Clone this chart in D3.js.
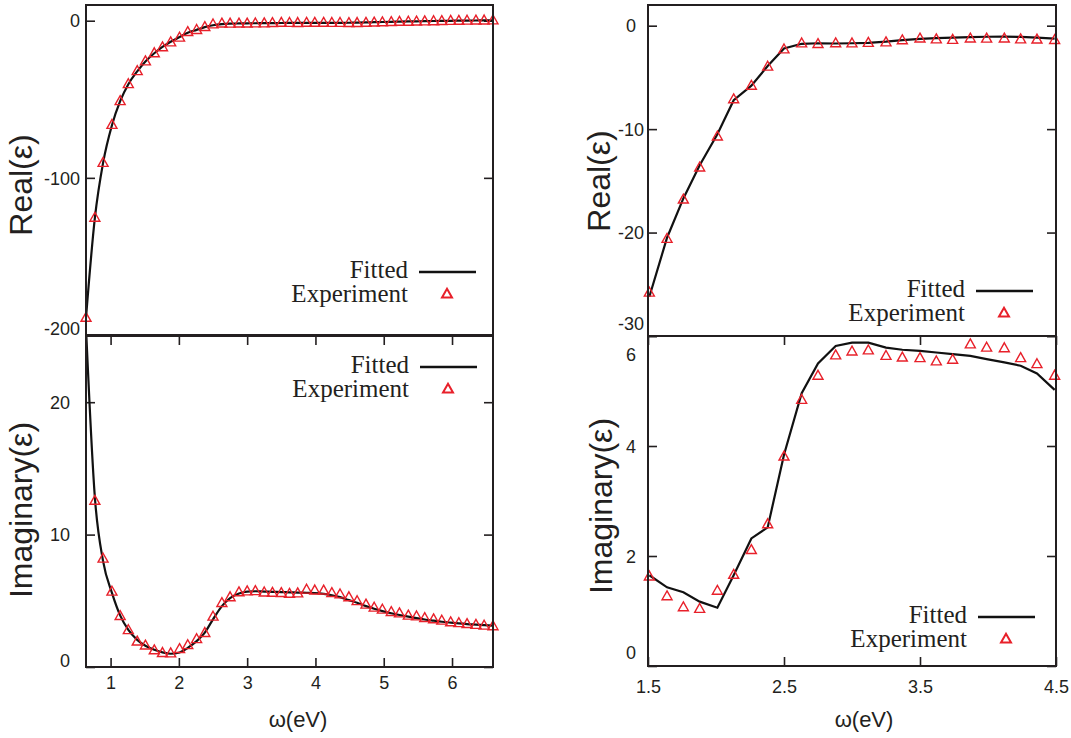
<!DOCTYPE html>
<html>
<head>
<meta charset="utf-8">
<script src="https://cdn.jsdelivr.net/npm/d3@7"></script>
<style>
  body { margin: 0; background: #fff; }
  svg { display: block; }
</style>
</head>
<body>
<svg id="chart" width="1071" height="738"></svg>
<script>
// photon energies (eV) of the measured points
const energy = [0.64, 0.77, 0.89, 1.02, 1.14, 1.26, 1.39, 1.51, 1.64, 1.76, 1.88, 2.01, 2.13, 2.26, 2.38,
  2.50, 2.63, 2.75, 2.88, 3.00, 3.12, 3.25, 3.37, 3.50, 3.62, 3.74, 3.87, 3.99, 4.12, 4.24, 4.36,
  4.49, 4.61, 4.74, 4.86, 4.98, 5.11, 5.23, 5.36, 5.48, 5.60, 5.73, 5.85, 5.98, 6.10, 6.22, 6.35, 6.47, 6.60]

// experiment
const expReal = [-189.0, -125.3, -90.4, -66.2, -51.1, -40.3, -32.0, -25.8, -20.6, -16.8, -13.7, -10.7, -7.1, -5.8, -3.95,
  -2.28, -1.70, -1.76, -1.69, -1.70, -1.65, -1.60, -1.40, -1.23, -1.31, -1.36, -1.23, -1.24, -1.23, -1.31, -1.33,
  -1.37, -1.35, -1.24, -1.08, -0.89, -0.74, -0.62, -0.55, -0.42, -0.35, -0.23, -0.13, -0.01, 0.06, 0.12, 0.19, 0.24, 0.28]
const expImag = [25.4, 12.56, 8.19, 5.70, 3.86, 2.79, 1.93, 1.63, 1.27, 1.07, 1.04, 1.37, 1.66, 2.11, 2.58,
  3.81, 4.84, 5.28, 5.65, 5.72, 5.74, 5.64, 5.61, 5.60, 5.54, 5.57, 5.85, 5.79, 5.78, 5.60, 5.49,
  5.28, 4.98, 4.72, 4.49, 4.34, 4.16, 4.06, 3.89, 3.83, 3.71, 3.61, 3.51, 3.39, 3.32, 3.25, 3.19, 3.13, 3.09]

// fitted curve, full range
const fitReal = [-189.0, -125.5, -90.5, -66.5, -51.2, -40.4, -32.2, -25.9, -20.7, -16.7, -13.4, -10.4, -7.6, -5.8, -4.1,
  -2.9, -2.2, -1.9, -1.75, -1.65, -1.6, -1.55, -1.5, -1.45, -1.42, -1.4, -1.38, -1.36, -1.35, -1.34, -1.32,
  -1.28, -1.2, -1.08, -0.95, -0.82, -0.7, -0.58, -0.47, -0.37, -0.28, -0.19, -0.11, -0.04, 0.03, 0.09, 0.15, 0.2, 0.25]
const fitImag = [25.6, 12.8, 8.0, 5.6, 3.9, 2.8, 2.05, 1.6, 1.3, 1.1, 1.0, 1.1, 1.45, 1.95, 2.6,
  3.6, 4.6, 5.2, 5.55, 5.7, 5.72, 5.7, 5.68, 5.66, 5.64, 5.62, 5.6, 5.58, 5.52, 5.42, 5.28,
  5.05, 4.85, 4.6, 4.4, 4.22, 4.06, 3.93, 3.8, 3.69, 3.59, 3.5, 3.42, 3.35, 3.29, 3.24, 3.2, 3.16, 3.12]

// fitted curve, 1.5 - 4.5 eV window
const energyZoom = [1.51, 1.64, 1.76, 1.88, 2.01, 2.13, 2.26, 2.38, 2.50, 2.63, 2.75, 2.88, 3.00,
  3.12, 3.25, 3.37, 3.50, 3.62, 3.74, 3.87, 3.99, 4.12, 4.24, 4.36, 4.49]
const fitRealZoom = [-26.2, -20.5, -16.7, -13.5, -10.5, -7.2, -5.8, -3.9, -2.2, -1.75, -1.7, -1.72, -1.7,
  -1.66, -1.55, -1.4, -1.28, -1.2, -1.15, -1.1, -1.07, -1.06, -1.08, -1.15, -1.25]
const fitImagZoom = [1.65, 1.43, 1.34, 1.17, 1.06, 1.65, 2.32, 2.52, 3.84, 4.96, 5.5, 5.82, 5.88,
  5.88, 5.79, 5.75, 5.73, 5.70, 5.67, 5.64, 5.58, 5.52, 5.46, 5.32, 5.02]

// ticks
const ticksX = [1, 2, 3, 4, 5, 6]
const ticksXZoom = [1.5, 2.5, 3.5, 4.5]
const ticksReal = [0, -100, -200]
const ticksImag = [0, 10, 20]
const ticksRealZoom = [0, -10, -20, -30]
const ticksImagZoom = [0, 2, 4, 6]

const legendLabels = ['Fitted', 'Experiment']

const svg = d3.select('#chart')
const sans = "'Liberation Sans', Arial, sans-serif"
const serif = "'Liberation Serif', 'Times New Roman', serif"
const frameColor = '#231f20'
const red = '#e8202a'
const triPath = 'M0,-5.3L5,3.6L-5,3.6Z'
const plain = d => String(d)

let clipId = 0

const drawPanel = p => {
	const x = d3.scaleLinear().domain(p.xDomain).range([p.left, p.right])
	const y = d3.scaleLinear().domain(p.yDomain).range([p.bottom, p.top])
	const g = svg.append('g')

	const cid = 'clip' + (clipId++)
	g.append('clipPath').attr('id', cid)
		.append('rect')
		.attr('x', p.left).attr('y', p.top)
		.attr('width', p.right - p.left).attr('height', p.bottom - p.top)

	// left axis with labels
	const yAx = g.append('g')
		.attr('transform', `translate(${p.left},0)`)
		.call(d3.axisLeft(y).tickValues(p.yTicks).tickFormat(plain)
			.tickSizeInner(-9).tickSizeOuter(0).tickPadding(p.yPad))
	yAx.selectAll('.tick text')
		.attr('text-anchor', p.yAnchor)
		.attr('dy', d => (p.yNudge[d] || 0) + 6.2)
	// mirror ticks on the right
	g.append('g')
		.attr('transform', `translate(${p.right},0)`)
		.call(d3.axisRight(y).tickValues(p.yTicks).tickSizeInner(-9).tickSizeOuter(0).tickFormat(''))

	if (p.xLabels) {
		g.append('g')
			.attr('transform', `translate(0,${p.bottom})`)
			.call(d3.axisBottom(x).tickValues(p.xTicks).tickFormat(plain)
				.tickSizeInner(-9).tickSizeOuter(0).tickPadding(p.xPad))
		g.append('g')
			.attr('transform', `translate(0,${p.top})`)
			.call(d3.axisTop(x).tickValues(p.xTicks).tickSizeInner(-9).tickSizeOuter(0).tickFormat(''))
	}

	g.selectAll('.domain').remove()
	g.selectAll('.tick line').style('stroke', frameColor).style('stroke-width', 1.6)
	g.selectAll('.tick text')
		.style('font-family', sans)
		.style('font-size', '18px')
		.style('fill', '#231f20')

	// fitted line
	const line = d3.line()
		.x(d => x(d[0]))
		.y(d => y(d[1]))
		.curve(p.curve)
	g.append('path')
		.datum(p.fitX.map((e, i) => [e, p.fitY[i]]))
		.attr('clip-path', `url(#${cid})`)
		.attr('d', line)
		.attr('fill', 'none')
		.attr('stroke', '#111')
		.attr('stroke-width', 2.2)

	// experiment points
	const pts = energy.map((e, i) => [e, p.expY[i]])
		.filter(d => d[0] >= p.xDomain[0] && d[0] <= p.xDomain[1] && d[1] >= p.yDomain[0] && d[1] <= p.yDomain[1])
	g.selectAll('path.pt')
		.data(pts)
		.enter()
		.append('path')
			.attr('class', 'pt')
			.attr('d', triPath)
			.attr('transform', d => `translate(${x(d[0])},${y(d[1])})`)
			.attr('fill', 'none')
			.attr('stroke', red)
			.attr('stroke-width', 1.4)

	// frame
	g.append('rect')
		.attr('x', p.left).attr('y', p.top)
		.attr('width', p.right - p.left).attr('height', p.bottom - p.top)
		.attr('fill', 'none')
		.attr('stroke', frameColor)
		.attr('stroke-width', 2)

	// legend
	const lg = g.append('g').attr('transform', `translate(${p.legend[0]},${p.legend[1]})`)
	lg.selectAll('text')
		.data(legendLabels)
		.enter()
		.append('text')
			.attr('x', 0)
			.attr('y', (d, i) => i * 24)
			.attr('text-anchor', 'end')
			.style('font-family', serif)
			.style('font-size', '25px')
			.style('fill', '#231f20')
			.text(d => d)
	lg.append('line')
		.attr('x1', 11).attr('x2', 68)
		.attr('y1', -6).attr('y2', -6)
		.attr('stroke', '#111')
		.attr('stroke-width', 2.4)
	lg.append('path')
		.attr('d', triPath)
		.attr('transform', 'translate(39,16)')
		.attr('fill', 'none')
		.attr('stroke', red)
		.attr('stroke-width', 2)

	// y title
	svg.append('text')
		.attr('transform', `translate(${p.titleX},${p.titleY}) rotate(-90)`)
		.attr('text-anchor', 'middle')
		.style('font-family', sans)
		.style('font-size', '32px')
		.style('fill', '#231f20')
		.text(p.title)
}

// left column
drawPanel({
	left: 86, right: 493, top: 5, bottom: 335,
	xDomain: [0.64, 6.6], yDomain: [-200, 10],
	yTicks: ticksReal, yPad: 6, yAnchor: 'end', yNudge: { '-200': -7 },
	xLabels: false,
	fitX: energy, fitY: fitReal, expY: expReal, curve: d3.curveMonotoneX,
	legend: [408, 278],
	title: 'Real(ε)', titleX: 32, titleY: 185
})
drawPanel({
	left: 86, right: 493, top: 336, bottom: 667,
	xDomain: [0.64, 6.6], yDomain: [0, 25],
	yTicks: ticksImag, yPad: 16, yAnchor: 'end', yNudge: { '0': -7 },
	xLabels: true, xTicks: ticksX, xPad: 9,
	fitX: energy, fitY: fitImag, expY: expImag, curve: d3.curveMonotoneX,
	legend: [409, 373],
	title: 'Imaginary(ε)', titleX: 32, titleY: 510
})

// right column
drawPanel({
	left: 648, right: 1056, top: 5, bottom: 336,
	xDomain: [1.5, 4.5], yDomain: [-30, 2],
	yTicks: ticksRealZoom, yPad: 17, yAnchor: 'middle', yNudge: { '-30': -13 },
	xLabels: false,
	fitX: energyZoom, fitY: fitRealZoom, expY: expReal, curve: d3.curveLinear,
	legend: [965, 297],
	title: 'Real(ε)', titleX: 610, titleY: 181
})
drawPanel({
	left: 648, right: 1056, top: 336, bottom: 666,
	xDomain: [1.5, 4.5], yDomain: [0, 6],
	yTicks: ticksImagZoom, yPad: 17, yAnchor: 'middle', yNudge: { '6': 18, '0': -14 },
	xLabels: true, xTicks: ticksXZoom, xPad: 14,
	fitX: energyZoom, fitY: fitImagZoom, expY: expImag, curve: d3.curveLinear,
	legend: [967, 623],
	title: 'Imaginary(ε)', titleX: 612, titleY: 506
})

// x titles
svg.selectAll('text.xtitle')
	.data([298, 864])
	.enter()
	.append('text')
		.attr('class', 'xtitle')
		.attr('x', d => d)
		.attr('y', 727)
		.attr('text-anchor', 'middle')
		.style('font-family', sans)
		.style('font-size', '22px')
		.style('fill', '#231f20')
		.text('ω(eV)')
</script>
</body>
</html>
